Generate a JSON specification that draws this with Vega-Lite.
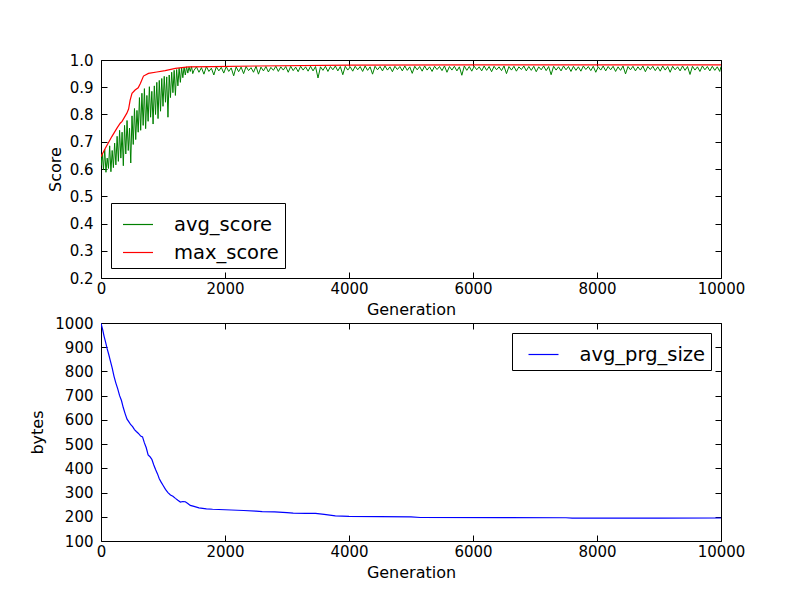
{
  "$schema": "https://vega.github.io/schema/vega-lite/v6.json",
  "background": "white",
  "padding": {"left": 29, "top": 52, "right": 0, "bottom": 0},
  "spacing": -3,
  "datasets": {
    "avg": [
      {"g": 0, "v": 0.612}, {"g": 20, "v": 0.655}, {"g": 40, "v": 0.598}, {"g": 60, "v": 0.672}, {"g": 80, "v": 0.588},
      {"g": 100, "v": 0.640}, {"g": 120, "v": 0.602}, {"g": 140, "v": 0.685}, {"g": 160, "v": 0.590}, {"g": 180, "v": 0.668},
      {"g": 200, "v": 0.605}, {"g": 220, "v": 0.695}, {"g": 240, "v": 0.615}, {"g": 260, "v": 0.720}, {"g": 280, "v": 0.628},
      {"g": 300, "v": 0.742}, {"g": 320, "v": 0.640}, {"g": 340, "v": 0.735}, {"g": 360, "v": 0.612}, {"g": 380, "v": 0.760},
      {"g": 400, "v": 0.655}, {"g": 420, "v": 0.778}, {"g": 440, "v": 0.668}, {"g": 460, "v": 0.750}, {"g": 480, "v": 0.622},
      {"g": 500, "v": 0.795}, {"g": 520, "v": 0.690}, {"g": 540, "v": 0.822}, {"g": 560, "v": 0.708}, {"g": 580, "v": 0.815},
      {"g": 600, "v": 0.735}, {"g": 620, "v": 0.862}, {"g": 640, "v": 0.742}, {"g": 660, "v": 0.878}, {"g": 680, "v": 0.760},
      {"g": 700, "v": 0.895}, {"g": 720, "v": 0.748}, {"g": 740, "v": 0.870}, {"g": 760, "v": 0.775}, {"g": 780, "v": 0.902},
      {"g": 800, "v": 0.790}, {"g": 820, "v": 0.885}, {"g": 840, "v": 0.765}, {"g": 860, "v": 0.905}, {"g": 880, "v": 0.800},
      {"g": 900, "v": 0.918}, {"g": 920, "v": 0.785}, {"g": 940, "v": 0.925}, {"g": 960, "v": 0.812}, {"g": 980, "v": 0.932},
      {"g": 1000, "v": 0.830}, {"g": 1020, "v": 0.940}, {"g": 1040, "v": 0.845}, {"g": 1060, "v": 0.938}, {"g": 1080, "v": 0.790},
      {"g": 1100, "v": 0.945}, {"g": 1120, "v": 0.862}, {"g": 1140, "v": 0.955}, {"g": 1160, "v": 0.880}, {"g": 1180, "v": 0.962},
      {"g": 1200, "v": 0.870}, {"g": 1220, "v": 0.965}, {"g": 1240, "v": 0.905}, {"g": 1260, "v": 0.970}, {"g": 1280, "v": 0.918},
      {"g": 1300, "v": 0.972}, {"g": 1320, "v": 0.935}, {"g": 1340, "v": 0.974}, {"g": 1360, "v": 0.945}, {"g": 1380, "v": 0.975},
      {"g": 1400, "v": 0.952}, {"g": 1420, "v": 0.974}, {"g": 1440, "v": 0.958}, {"g": 1460, "v": 0.976}, {"g": 1480, "v": 0.950},
      {"g": 1500, "v": 0.962}, {"g": 1540, "v": 0.975}, {"g": 1580, "v": 0.955}, {"g": 1620, "v": 0.972}, {"g": 1660, "v": 0.948},
      {"g": 1700, "v": 0.976}, {"g": 1740, "v": 0.958}, {"g": 1780, "v": 0.970}, {"g": 1820, "v": 0.945}, {"g": 1860, "v": 0.975},
      {"g": 1900, "v": 0.960}, {"g": 1940, "v": 0.973}, {"g": 1980, "v": 0.952}, {"g": 2020, "v": 0.976}, {"g": 2060, "v": 0.958},
      {"g": 2100, "v": 0.971}, {"g": 2140, "v": 0.942}, {"g": 2180, "v": 0.975}, {"g": 2220, "v": 0.957}, {"g": 2260, "v": 0.974},
      {"g": 2300, "v": 0.950}, {"g": 2340, "v": 0.976}, {"g": 2380, "v": 0.961}, {"g": 2420, "v": 0.972}, {"g": 2460, "v": 0.955},
      {"g": 2500, "v": 0.977}, {"g": 2540, "v": 0.948}, {"g": 2580, "v": 0.974}, {"g": 2620, "v": 0.960}, {"g": 2660, "v": 0.976},
      {"g": 2700, "v": 0.956}, {"g": 2740, "v": 0.973}, {"g": 2780, "v": 0.962}, {"g": 2820, "v": 0.977}, {"g": 2860, "v": 0.958},
      {"g": 2900, "v": 0.975}, {"g": 2940, "v": 0.963}, {"g": 2980, "v": 0.976}, {"g": 3020, "v": 0.955}, {"g": 3060, "v": 0.977},
      {"g": 3100, "v": 0.961}, {"g": 3140, "v": 0.974}, {"g": 3180, "v": 0.957}, {"g": 3220, "v": 0.977}, {"g": 3260, "v": 0.963},
      {"g": 3300, "v": 0.975}, {"g": 3340, "v": 0.959}, {"g": 3380, "v": 0.977}, {"g": 3420, "v": 0.960}, {"g": 3460, "v": 0.976},
      {"g": 3500, "v": 0.934}, {"g": 3540, "v": 0.975}, {"g": 3580, "v": 0.962}, {"g": 3620, "v": 0.977}, {"g": 3660, "v": 0.958},
      {"g": 3700, "v": 0.976}, {"g": 3740, "v": 0.964}, {"g": 3780, "v": 0.978}, {"g": 3820, "v": 0.960}, {"g": 3860, "v": 0.976},
      {"g": 3900, "v": 0.946}, {"g": 3940, "v": 0.977}, {"g": 3980, "v": 0.963}, {"g": 4020, "v": 0.975}, {"g": 4060, "v": 0.959},
      {"g": 4100, "v": 0.977}, {"g": 4140, "v": 0.964}, {"g": 4180, "v": 0.976}, {"g": 4220, "v": 0.958}, {"g": 4260, "v": 0.978},
      {"g": 4300, "v": 0.962}, {"g": 4340, "v": 0.975}, {"g": 4380, "v": 0.948}, {"g": 4420, "v": 0.977}, {"g": 4460, "v": 0.964},
      {"g": 4500, "v": 0.976}, {"g": 4540, "v": 0.960}, {"g": 4580, "v": 0.978}, {"g": 4620, "v": 0.963}, {"g": 4660, "v": 0.975},
      {"g": 4700, "v": 0.957}, {"g": 4740, "v": 0.977}, {"g": 4780, "v": 0.965}, {"g": 4820, "v": 0.976}, {"g": 4860, "v": 0.960},
      {"g": 4900, "v": 0.978}, {"g": 4940, "v": 0.962}, {"g": 4980, "v": 0.975}, {"g": 5020, "v": 0.951}, {"g": 5060, "v": 0.977},
      {"g": 5100, "v": 0.964}, {"g": 5140, "v": 0.976}, {"g": 5180, "v": 0.959}, {"g": 5220, "v": 0.978}, {"g": 5260, "v": 0.963},
      {"g": 5300, "v": 0.975}, {"g": 5340, "v": 0.958}, {"g": 5380, "v": 0.977}, {"g": 5420, "v": 0.965}, {"g": 5460, "v": 0.976},
      {"g": 5500, "v": 0.961}, {"g": 5540, "v": 0.978}, {"g": 5580, "v": 0.955}, {"g": 5620, "v": 0.976}, {"g": 5660, "v": 0.963},
      {"g": 5700, "v": 0.977}, {"g": 5740, "v": 0.960}, {"g": 5780, "v": 0.975}, {"g": 5820, "v": 0.944}, {"g": 5860, "v": 0.978},
      {"g": 5900, "v": 0.962}, {"g": 5940, "v": 0.976}, {"g": 5980, "v": 0.959}, {"g": 6020, "v": 0.977}, {"g": 6060, "v": 0.964},
      {"g": 6100, "v": 0.975}, {"g": 6140, "v": 0.960}, {"g": 6180, "v": 0.978}, {"g": 6220, "v": 0.962}, {"g": 6260, "v": 0.976},
      {"g": 6300, "v": 0.957}, {"g": 6340, "v": 0.977}, {"g": 6380, "v": 0.964}, {"g": 6420, "v": 0.975}, {"g": 6460, "v": 0.961},
      {"g": 6500, "v": 0.978}, {"g": 6540, "v": 0.950}, {"g": 6580, "v": 0.976}, {"g": 6620, "v": 0.963}, {"g": 6660, "v": 0.977},
      {"g": 6700, "v": 0.959}, {"g": 6740, "v": 0.975}, {"g": 6780, "v": 0.965}, {"g": 6820, "v": 0.978}, {"g": 6860, "v": 0.960},
      {"g": 6900, "v": 0.976}, {"g": 6940, "v": 0.962}, {"g": 6980, "v": 0.977}, {"g": 7020, "v": 0.957}, {"g": 7060, "v": 0.975},
      {"g": 7100, "v": 0.964}, {"g": 7140, "v": 0.978}, {"g": 7180, "v": 0.961}, {"g": 7220, "v": 0.976}, {"g": 7260, "v": 0.946},
      {"g": 7300, "v": 0.977}, {"g": 7340, "v": 0.963}, {"g": 7380, "v": 0.975}, {"g": 7420, "v": 0.960}, {"g": 7460, "v": 0.978},
      {"g": 7500, "v": 0.964}, {"g": 7540, "v": 0.976}, {"g": 7580, "v": 0.958}, {"g": 7620, "v": 0.977}, {"g": 7660, "v": 0.962},
      {"g": 7700, "v": 0.975}, {"g": 7740, "v": 0.959}, {"g": 7780, "v": 0.978}, {"g": 7820, "v": 0.965}, {"g": 7860, "v": 0.976},
      {"g": 7900, "v": 0.961}, {"g": 7940, "v": 0.977}, {"g": 7980, "v": 0.955}, {"g": 8020, "v": 0.975}, {"g": 8060, "v": 0.963},
      {"g": 8100, "v": 0.978}, {"g": 8140, "v": 0.960}, {"g": 8180, "v": 0.976}, {"g": 8220, "v": 0.964}, {"g": 8260, "v": 0.977},
      {"g": 8300, "v": 0.958}, {"g": 8340, "v": 0.975}, {"g": 8380, "v": 0.962}, {"g": 8420, "v": 0.978}, {"g": 8460, "v": 0.949},
      {"g": 8500, "v": 0.976}, {"g": 8540, "v": 0.964}, {"g": 8580, "v": 0.977}, {"g": 8620, "v": 0.960}, {"g": 8660, "v": 0.975},
      {"g": 8700, "v": 0.963}, {"g": 8740, "v": 0.978}, {"g": 8780, "v": 0.957}, {"g": 8820, "v": 0.976}, {"g": 8860, "v": 0.965},
      {"g": 8900, "v": 0.977}, {"g": 8940, "v": 0.961}, {"g": 8980, "v": 0.975}, {"g": 9020, "v": 0.959}, {"g": 9060, "v": 0.978},
      {"g": 9100, "v": 0.963}, {"g": 9140, "v": 0.976}, {"g": 9180, "v": 0.955}, {"g": 9220, "v": 0.977}, {"g": 9260, "v": 0.964},
      {"g": 9300, "v": 0.975}, {"g": 9340, "v": 0.960}, {"g": 9380, "v": 0.978}, {"g": 9420, "v": 0.962}, {"g": 9460, "v": 0.976},
      {"g": 9500, "v": 0.947}, {"g": 9540, "v": 0.977}, {"g": 9580, "v": 0.963}, {"g": 9620, "v": 0.975}, {"g": 9660, "v": 0.958},
      {"g": 9700, "v": 0.978}, {"g": 9740, "v": 0.964}, {"g": 9780, "v": 0.976}, {"g": 9820, "v": 0.960}, {"g": 9860, "v": 0.977},
      {"g": 9900, "v": 0.962}, {"g": 9940, "v": 0.975}, {"g": 9980, "v": 0.958}, {"g": 10000, "v": 0.976}
    ],
    "max": [
      {"g": 0, "v": 0.645}, {"g": 15, "v": 0.652}, {"g": 70, "v": 0.676}, {"g": 175, "v": 0.719}, {"g": 255, "v": 0.749},
      {"g": 310, "v": 0.768}, {"g": 340, "v": 0.775}, {"g": 415, "v": 0.804}, {"g": 445, "v": 0.820}, {"g": 470, "v": 0.853},
      {"g": 500, "v": 0.878}, {"g": 550, "v": 0.890}, {"g": 600, "v": 0.898}, {"g": 635, "v": 0.914}, {"g": 685, "v": 0.941},
      {"g": 765, "v": 0.951}, {"g": 900, "v": 0.956}, {"g": 1035, "v": 0.961}, {"g": 1200, "v": 0.969}, {"g": 1410, "v": 0.975},
      {"g": 1800, "v": 0.976}, {"g": 2500, "v": 0.978}, {"g": 4000, "v": 0.981}, {"g": 6000, "v": 0.982}, {"g": 10000, "v": 0.982}
    ],
    "size": [
      {"g": 0, "v": 998}, {"g": 25, "v": 975}, {"g": 50, "v": 945}, {"g": 75, "v": 920}, {"g": 100, "v": 893},
      {"g": 125, "v": 870}, {"g": 150, "v": 845}, {"g": 180, "v": 815}, {"g": 210, "v": 780}, {"g": 240, "v": 752},
      {"g": 270, "v": 728}, {"g": 300, "v": 700}, {"g": 330, "v": 680}, {"g": 360, "v": 650}, {"g": 390, "v": 625},
      {"g": 420, "v": 603}, {"g": 450, "v": 592}, {"g": 480, "v": 580}, {"g": 510, "v": 572}, {"g": 540, "v": 560},
      {"g": 570, "v": 552}, {"g": 600, "v": 545}, {"g": 640, "v": 533}, {"g": 670, "v": 530}, {"g": 700, "v": 505},
      {"g": 730, "v": 485}, {"g": 760, "v": 455}, {"g": 790, "v": 448}, {"g": 820, "v": 437}, {"g": 850, "v": 415},
      {"g": 880, "v": 395}, {"g": 910, "v": 378}, {"g": 940, "v": 357}, {"g": 970, "v": 343}, {"g": 1000, "v": 330},
      {"g": 1040, "v": 313}, {"g": 1080, "v": 300}, {"g": 1120, "v": 290}, {"g": 1160, "v": 285}, {"g": 1200, "v": 276},
      {"g": 1240, "v": 268}, {"g": 1280, "v": 261}, {"g": 1320, "v": 263}, {"g": 1360, "v": 262}, {"g": 1400, "v": 255},
      {"g": 1440, "v": 247}, {"g": 1500, "v": 243}, {"g": 1580, "v": 237}, {"g": 1700, "v": 233}, {"g": 1800, "v": 231},
      {"g": 1900, "v": 230}, {"g": 2000, "v": 229}, {"g": 2100, "v": 228}, {"g": 2300, "v": 226}, {"g": 2500, "v": 223},
      {"g": 2600, "v": 221}, {"g": 2800, "v": 220}, {"g": 3000, "v": 217}, {"g": 3100, "v": 215}, {"g": 3300, "v": 214},
      {"g": 3460, "v": 214}, {"g": 3600, "v": 210}, {"g": 3780, "v": 204}, {"g": 4000, "v": 202}, {"g": 4500, "v": 201},
      {"g": 5000, "v": 200}, {"g": 5150, "v": 197}, {"g": 6500, "v": 196.5}, {"g": 7500, "v": 196}, {"g": 7600, "v": 194.5},
      {"g": 9000, "v": 194.5}, {"g": 10000, "v": 195}
    ]
  },
  "vconcat": [
    {
      "width": 620,
      "height": 218,
      "resolve": {"axis": {"x": "independent", "y": "independent"}},
      "layer": [
        {
          "data": {"name": "avg"},
          "mark": {"type": "line", "strokeWidth": 1, "clip": true},
          "encoding": {
            "x": {"field": "g", "type": "quantitative", "scale": {"domain": [0, 10000], "nice": false},
                  "axis": {"orient": "bottom", "title": "Generation", "values": [0, 2000, 4000, 6000, 8000, 10000], "format": "d", "labelPadding": 9, "titlePadding": 5}},
            "y": {"field": "v", "type": "quantitative", "scale": {"domain": [0.2, 1.0], "nice": false, "zero": false},
                  "axis": {"orient": "left", "title": "Score", "values": [0.2, 0.3, 0.4, 0.5, 0.6, 0.7, 0.8, 0.9, 1.0], "format": ".1f", "labelPadding": 14, "titlePadding": 6}},
            "color": {"datum": "avg_score", "scale": {"domain": ["avg_score", "max_score"], "range": ["#008000", "#ff0000"]},
                      "legend": {"orient": "bottom-left", "offset": 10}}
          }
        },
        {
          "data": {"name": "max"},
          "mark": {"type": "line", "strokeWidth": 1.2, "clip": true},
          "encoding": {
            "x": {"field": "g", "type": "quantitative", "axis": null},
            "y": {"field": "v", "type": "quantitative", "axis": null},
            "color": {"datum": "max_score"}
          }
        },
        {
          "data": {"name": "max"},
          "mark": {"type": "point", "opacity": 0},
          "encoding": {
            "x": {"field": "g", "type": "quantitative",
                  "axis": {"orient": "top", "title": null, "labels": false, "values": [0, 2000, 4000, 6000, 8000, 10000]}},
            "y": {"field": "v", "type": "quantitative",
                  "axis": {"orient": "right", "title": null, "labels": false, "values": [0.2, 0.3, 0.4, 0.5, 0.6, 0.7, 0.8, 0.9, 1.0]}}
          }
        }
      ]
    },
    {
      "width": 620,
      "height": 218,
      "resolve": {"axis": {"x": "independent", "y": "independent"}},
      "layer": [
        {
          "data": {"name": "size"},
          "mark": {"type": "line", "strokeWidth": 1.2, "clip": true},
          "encoding": {
            "x": {"field": "g", "type": "quantitative", "scale": {"domain": [0, 10000], "nice": false},
                  "axis": {"orient": "bottom", "title": "Generation", "values": [0, 2000, 4000, 6000, 8000, 10000], "format": "d", "labelPadding": 9, "titlePadding": 5}},
            "y": {"field": "v", "type": "quantitative", "scale": {"domain": [100, 1000], "nice": false, "zero": false},
                  "axis": {"orient": "left", "title": "bytes", "values": [100, 200, 300, 400, 500, 600, 700, 800, 900, 1000], "format": "d", "labelPadding": 14, "titlePadding": 9}},
            "color": {"datum": "avg_prg_size", "scale": {"domain": ["avg_prg_size"], "range": ["#0000ff"]},
                      "legend": {"orient": "top-right", "offset": 10, "symbolOffset": 10}}
          }
        },
        {
          "data": {"name": "size"},
          "mark": {"type": "point", "opacity": 0},
          "encoding": {
            "x": {"field": "g", "type": "quantitative",
                  "axis": {"orient": "top", "title": null, "labels": false, "values": [0, 2000, 4000, 6000, 8000, 10000]}},
            "y": {"field": "v", "type": "quantitative",
                  "axis": {"orient": "right", "title": null, "labels": false, "values": [100, 200, 300, 400, 500, 600, 700, 800, 900, 1000]}}
          }
        }
      ]
    }
  ],
  "resolve": {"scale": {"color": "independent"}},
  "config": {
    "font": "DejaVu Sans",
    "view": {"stroke": "black", "strokeWidth": 1},
    "axis": {
      "domain": false,
      "grid": false,
      "labelFont": "DejaVu Sans",
      "labelFontSize": 15,
      "labelColor": "black",
      "labelFlush": false,
      "labelOverlap": false,
      "titleFont": "DejaVu Sans",
      "titleFontSize": 16,
      "titleFontWeight": "normal",
      "titleColor": "black",
      "tickColor": "black",
      "tickSize": -6,
      "tickWidth": 1
    },
    "legend": {
      "title": null,
      "labelFont": "DejaVu Sans",
      "labelFontSize": 19.5,
      "labelColor": "black",
      "symbolType": "stroke",
      "symbolSize": 900,
      "symbolStrokeWidth": 1.2,
      "strokeColor": "black",
      "fillColor": "white",
      "padding": 5.5,
      "rowPadding": 2,
      "labelOffset": 20,
      "symbolOffset": 5.5,
      "cornerRadius": 0
    }
  }
}
